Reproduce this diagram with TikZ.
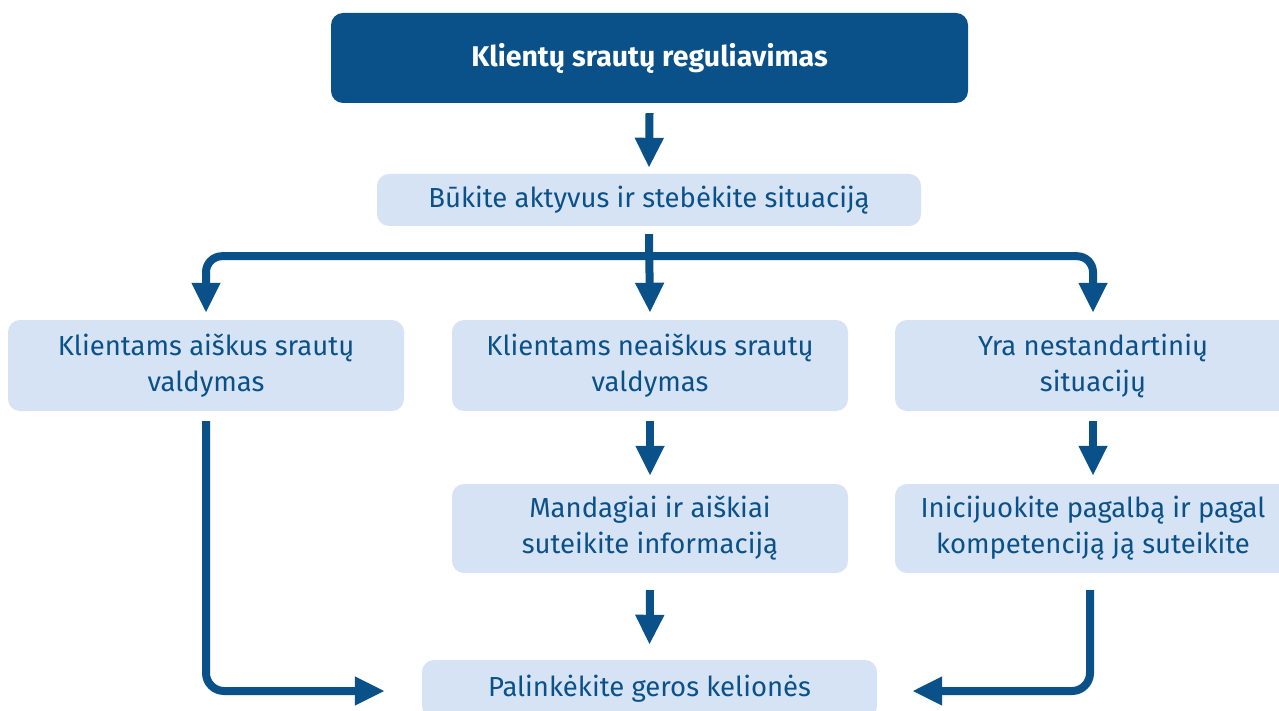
\documentclass[tikz,border=0pt]{standalone}
\usepackage{fontspec}
\setmainfont{Fira Sans}
\usetikzlibrary{arrows.meta}
\definecolor{dblue}{HTML}{0B5189}
\definecolor{lblue}{HTML}{D6E3F4}
\tikzset{
  box/.style={fill=lblue, rounded corners=12pt, text=dblue, align=center, inner sep=0pt,
    font=\fontsize{27.5}{36}\selectfont},
  topbox/.style={fill=dblue, rounded corners=12pt, text=white, align=center, inner sep=0pt,
    font=\fontsize{28.5}{36}\selectfont\bfseries},
  arr/.style={draw=dblue, line width=8pt, -{Triangle[width=27pt,length=30pt]}},
}
\begin{document}
\begin{tikzpicture}[x=1pt,y=-1pt]
\useasboundingbox (0,0) rectangle (1279,711);
\clip (0,0) rectangle (1279,711);
\node[topbox, minimum width=637pt, minimum height=90pt] (top) at (649.5,58) {Klientų srautų reguliavimas};
\node[box, minimum width=544pt, minimum height=52pt] (b2) at (649,200) {Būkite aktyvus ir stebėkite situaciją};
\node[box, minimum width=396pt, minimum height=91pt] (l) at (206,365.5) {Klientams aiškus srautų\\valdymas};
\node[box, minimum width=396pt, minimum height=91pt] (m) at (650,365.5) {Klientams neaiškus srautų\\valdymas};
\node[box, minimum width=396pt, minimum height=91pt] (r) at (1093,365.5) {Yra nestandartinių\\situacijų};
\node[box, minimum width=396pt, minimum height=89pt] (m4) at (650,528.5) {Mandagiai ir aiškiai\\suteikite informaciją};
\node[box, minimum width=396pt, minimum height=89pt] (r4) at (1093,528.5) {Inicijuokite pagalbą ir pagal\\kompetenciją ją suteikite};
\node[box, minimum width=455pt, minimum height=58pt] (bot) at (649.5,689) {Palinkėkite geros kelionės};
\coordinate (j) at ([yshift=-30pt]b2.south);

\draw[arr] ([yshift=-10pt]top.south) -- ([yshift=6pt]b2.north);
\draw[arr] ([yshift=-8pt]b2.south) -- ([yshift=7pt]m.north);
\draw[arr, rounded corners=16pt] (j) -| ([yshift=7pt]l.north);
\draw[arr, rounded corners=16pt] (j) -| ([yshift=7pt]r.north);
\draw[arr] ([yshift=-10pt]m.south) -- ([yshift=8pt]m4.north);
\draw[arr] ([yshift=-10pt]r.south) -- ([yshift=8pt]r4.north);
\draw[arr] ([yshift=-17pt]m4.south) -- ([yshift=15pt]bot.north);
\draw[arr, rounded corners=18pt] ([yshift=-10pt]l.south) |- ([xshift=-37pt,yshift=-2pt]bot.west);
\draw[arr, rounded corners=18pt] ([xshift=-3pt,yshift=-17pt]r4.south) |- ([xshift=35pt,yshift=-2pt]bot.east);
\end{tikzpicture}
\end{document}
